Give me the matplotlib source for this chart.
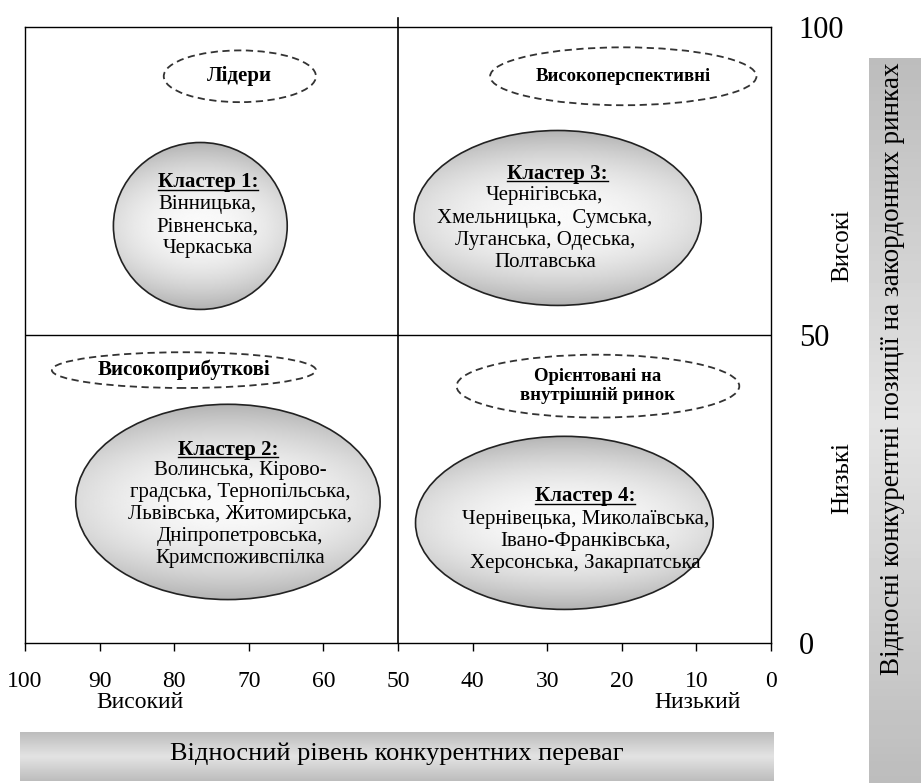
import numpy as np
import matplotlib
matplotlib.use("Agg")
import matplotlib.pyplot as plt
from matplotlib.patches import Ellipse
from matplotlib.lines import Line2D

plt.rcParams['font.family'] = ['Liberation Serif', 'DejaVu Serif']

# ---- data ----
x_ticks = [100, 90, 80, 70, 60, 50, 40, 30, 20, 10, 0]
y_ticks = [0, 50, 100]
x_title = "Відносний рівень конкурентних переваг"
y_title = "Відносні конкурентні позиції на закордонних ринках"
x_level_labels = ["Високий", "Низький"]
y_level_labels = ["Високі", "Низькі"]

quadrant_names = ["Лідери", "Високоперспективні", "Високоприбуткові",
                  "Орієнтовані на\nвнутрішній ринок"]
cluster_titles = ["Кластер 1:", "Кластер 3:", "Кластер 2:", "Кластер 4:"]
cluster_regions = [
    "Вінницька,\nРівненська,\nЧеркаська",
    "Чернігівська,\nХмельницька,  Сумська,\nЛуганська, Одеська,\nПолтавська",
    "Волинська, Кірово-\nградська, Тернопільська,\nЛьвівська, Житомирська,\n"
    "Дніпропетровська,\nКримспоживспілка",
    "Чернівецька, Миколаївська,\nІвано-Франківська,\nХерсонська, Закарпатська",
]

# ---- layout (chart coordinates) ----
quad_ell = [(71.2, 92.0, 20.4, 8.4), (19.8, 92.0, 35.7, 9.4),
            (78.7, 44.3, 35.4, 5.8), (23.2, 41.7, 37.9, 10.2)]
quad_size = [15, 13.5, 15, 13.5]
clus_ell = [(76.5, 67.7, 23.3, 27.1), (28.6, 69.0, 38.5, 28.4),
            (72.8, 22.9, 40.8, 31.7), (27.7, 19.5, 39.9, 28.1)]
title_pos = [(75.5, 74.0), (28.6, 75.4), (72.8, 30.6), (24.9, 23.0)]
members_pos = [(75.5, 67.6), (30.3, 67.2), (71.2, 20.9), (24.9, 16.5)]

W, H = 921, 783
fig = plt.figure(figsize=(W / 100, H / 100), dpi=100)
ax = fig.add_axes([25 / W, 1 - 643 / H, 746 / W, 616 / H])
ax.set_xlim(100, 0)
ax.set_ylim(0, 100)

for s in ax.spines.values():
    s.set_linewidth(1.0)
    s.set_color('black')

ax.set_xticks(x_ticks)
ax.set_xticklabels([str(v) for v in x_ticks], fontsize=17)
ax.tick_params(axis='x', direction='out', length=6, width=1, pad=14)
ax.yaxis.tick_right()
ax.set_yticks(y_ticks)
ax.set_yticklabels([str(v) for v in y_ticks], fontsize=22)
ax.tick_params(axis='y', length=0, pad=20)

# quadrant dividers
ax.plot([50, 50], [0, 101.4], color='black', lw=1.2, clip_on=False, zorder=1)
ax.axhline(50, color='black', lw=1.0, zorder=1)

# gradient for cluster ellipses
ny, nx = 200, 200
u = np.linspace(-1, 1, nx)
v = np.linspace(-1, 1, ny)
U, V = np.meshgrid(u, v)
shade = np.clip(0.98 - 0.28 * V ** 2 - 0.12 * U ** 2, 0, 1)

for (cx, cy, w, h) in clus_ell:
    e = Ellipse((cx, cy), w, h, facecolor='none', edgecolor='#222222',
                lw=1.2, zorder=3)
    ax.add_patch(e)
    im = ax.imshow(shade, cmap='gray', vmin=0, vmax=1, origin='lower',
                   extent=(cx - w / 2, cx + w / 2, cy - h / 2, cy + h / 2),
                   aspect='auto', zorder=2, interpolation='bilinear')
    im.set_clip_path(e)

for (cx, cy, w, h), name, fs in zip(quad_ell, quadrant_names, quad_size):
    ax.add_patch(Ellipse((cx, cy), w, h, facecolor='none', edgecolor='#333333',
                         lw=1.3, linestyle=(0, (4, 2.5)), zorder=3))
    ax.text(cx, cy, name, ha='center', va='center', fontsize=fs,
            fontweight='bold', linespacing=1.15, zorder=4)

ax.set_xlim(100, 0)
ax.set_ylim(0, 100)

titles = []
for (tx, ty), t in zip(title_pos, cluster_titles):
    titles.append(ax.text(tx, ty, t, ha='center', va='baseline', fontsize=15,
                          fontweight='bold', zorder=4))
for (mx, my), m in zip(members_pos, cluster_regions):
    ax.text(mx, my, m, ha='center', va='center', fontsize=15,
            linespacing=1.22, zorder=4)

# level labels
ax.text(84.6, -9.7, x_level_labels[0], ha='center', va='center', fontsize=17,
        clip_on=False)
ax.text(9.9, -9.7, x_level_labels[1], ha='center', va='center', fontsize=17,
        clip_on=False)
ax.text(-9.5, 64.6, y_level_labels[0], ha='center', va='center', fontsize=18,
        rotation=90, clip_on=False)
ax.text(-9.5, 26.8, y_level_labels[1], ha='center', va='center', fontsize=18,
        rotation=90, clip_on=False)

# grey title boxes
t = np.linspace(0, 1, 100)
band = 0.74 + 0.15 * (1 - np.abs(2 * t - 1))
bx = fig.add_axes([20 / W, 2 / H, 753 / W, 49 / H])
bx.imshow(band[:, None], cmap='gray', vmin=0, vmax=1, aspect='auto',
          extent=(0, 1, 0, 1))
bx.axis('off')
bx.text(0.5, 0.55, x_title, ha='center', va='center', fontsize=19,
        transform=bx.transAxes)

rx = fig.add_axes([869 / W, 0, 52 / W, 725 / H])
rx.imshow(band[:, None], cmap='gray', vmin=0, vmax=1, aspect='auto',
          extent=(0, 1, 0, 1))
rx.axis('off')
rx.text(0.46, 0.572, y_title, ha='center', va='center', fontsize=19.5,
        rotation=90, transform=rx.transAxes)

# underline cluster titles
fig.canvas.draw()
renderer = fig.canvas.get_renderer()
for txt in titles:
    bb = txt.get_window_extent(renderer)
    x0, y0 = ax.transData.transform(txt.get_position())
    yb = y0 - 2.5
    p0 = fig.transFigure.inverted().transform((bb.x0, yb))
    p1 = fig.transFigure.inverted().transform((bb.x1, yb))
    fig.add_artist(Line2D([p0[0], p1[0]], [p0[1], p1[1]], color='black',
                          lw=1.0, zorder=5))

fig.savefig("out.png", dpi=100)
